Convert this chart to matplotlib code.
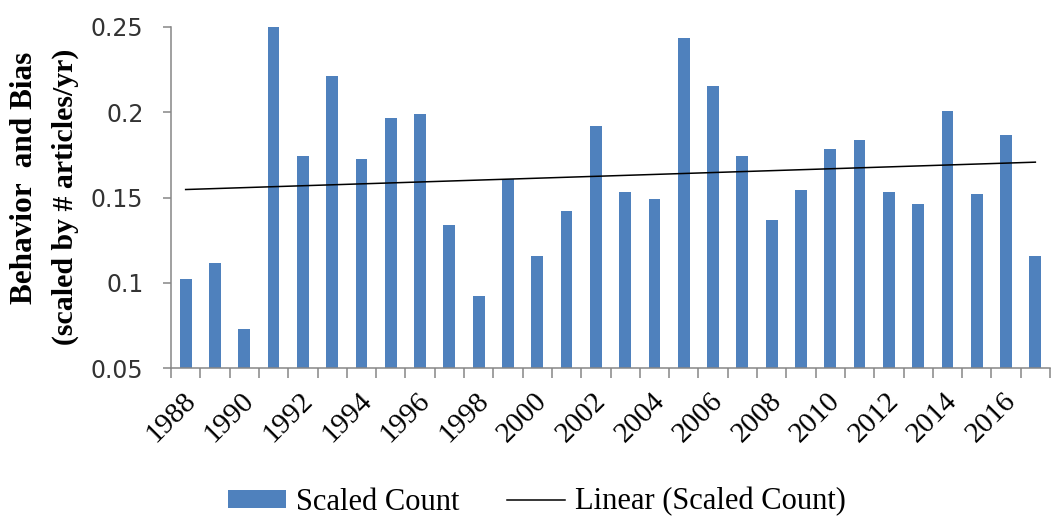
import numpy as np
import matplotlib
matplotlib.use("Agg")
import matplotlib.pyplot as plt
import matplotlib.transforms as mtransforms
from matplotlib.patches import Patch
from matplotlib.lines import Line2D

# values
years = list(range(1988, 2018))
scaled_count = [0.102, 0.1116, 0.0729, 0.250, 0.1743, 0.2213, 0.1728, 0.1964,
                0.1992, 0.1339, 0.0924, 0.1608, 0.1159, 0.1423, 0.1920, 0.1532,
                0.1491, 0.2435, 0.2156, 0.1742, 0.1366, 0.1546, 0.1783, 0.1838,
                0.1532, 0.1464, 0.2005, 0.1519, 0.1865, 0.1159]
label_years = [str(y) for y in range(1988, 2018, 2)]
ytick_values = [0.05, 0.1, 0.15, 0.2, 0.25]
ytick_labels = ["0.05", "0.1", "0.15", "0.2", "0.25"]
ylabel_line1 = "Behavior  and Bias"
ylabel_line2 = "(scaled by # articles/yr)"

W, H = 1054, 518
bar_color = "#4F81BD"
axis_color = "#868686"
serif = ["Liberation Serif", "DejaVu Serif"]

fig = plt.figure(figsize=(W / 100, H / 100), dpi=100)
ax = fig.add_axes([171 / W, 1 - 368 / H, (1050 - 171) / W, (368 - 27) / H])

x = np.arange(1, len(years) + 1)
ax.bar(x, np.array(scaled_count) - 0.05, bottom=0.05, width=0.4,
       color=bar_color, zorder=2)

# linear trend, as Excel draws it
slope, intercept = np.polyfit(x, scaled_count, 1)
ax.plot(x, slope * x + intercept, color="black", lw=1.1, zorder=3)

ax.set_xlim(0.5, len(years) + 0.5)
ax.set_ylim(0.05, 0.25)

# y axis
ax.set_yticks(ytick_values)
ax.set_yticklabels(ytick_labels, fontsize=17, family="DejaVu Sans",
                   color="#333333")
ax.tick_params(axis="y", direction="out", length=5.8, width=1.1,
               color=axis_color, pad=14)

# x axis: ticks between categories, labels every second year
label_pos = [years.index(int(y)) + 1 for y in label_years]
ax.set_xticks(label_pos)
ax.set_xticklabels(label_years, rotation=45, ha="right", va="center",
                   rotation_mode="anchor", fontsize=21, family=serif)
ax.set_xticks(np.arange(0.5, len(years) + 1), minor=True)
ax.tick_params(axis="x", which="major", length=0, pad=21)
ax.tick_params(axis="x", which="minor", direction="out", length=7,
               width=1.1, color=axis_color)
offset = mtransforms.ScaledTranslation(6 / 100, 0, fig.dpi_scale_trans)
for lab in ax.get_xticklabels():
    lab.set_transform(lab.get_transform() + offset)

for side in ["top", "right"]:
    ax.spines[side].set_visible(False)
for side in ["left", "bottom"]:
    ax.spines[side].set_color(axis_color)
    ax.spines[side].set_linewidth(1.1)

# two-line y label
fig.text(25 / W, 1 - 178 / H, ylabel_line1, rotation=90, ha="center",
         va="center", fontsize=22.5, fontweight="bold", family=serif)
fig.text(65 / W, 1 - 197 / H, ylabel_line2, rotation=90, ha="center",
         va="center", fontsize=21.5, fontweight="bold", family=serif)

handles = [Patch(facecolor=bar_color, edgecolor="none"),
           Line2D([0], [0], color="black", lw=1.1)]
fig.legend(handles, ["Scaled Count", "Linear (Scaled Count)"], ncol=2,
           loc="center", bbox_to_anchor=(537 / W, 1 - 502 / H),
           frameon=False, prop={"family": serif, "size": 22},
           handlelength=1.9, handleheight=0.56, handletextpad=0.33,
           columnspacing=1.57, borderpad=0)

fig.savefig("out.png", dpi=100)
